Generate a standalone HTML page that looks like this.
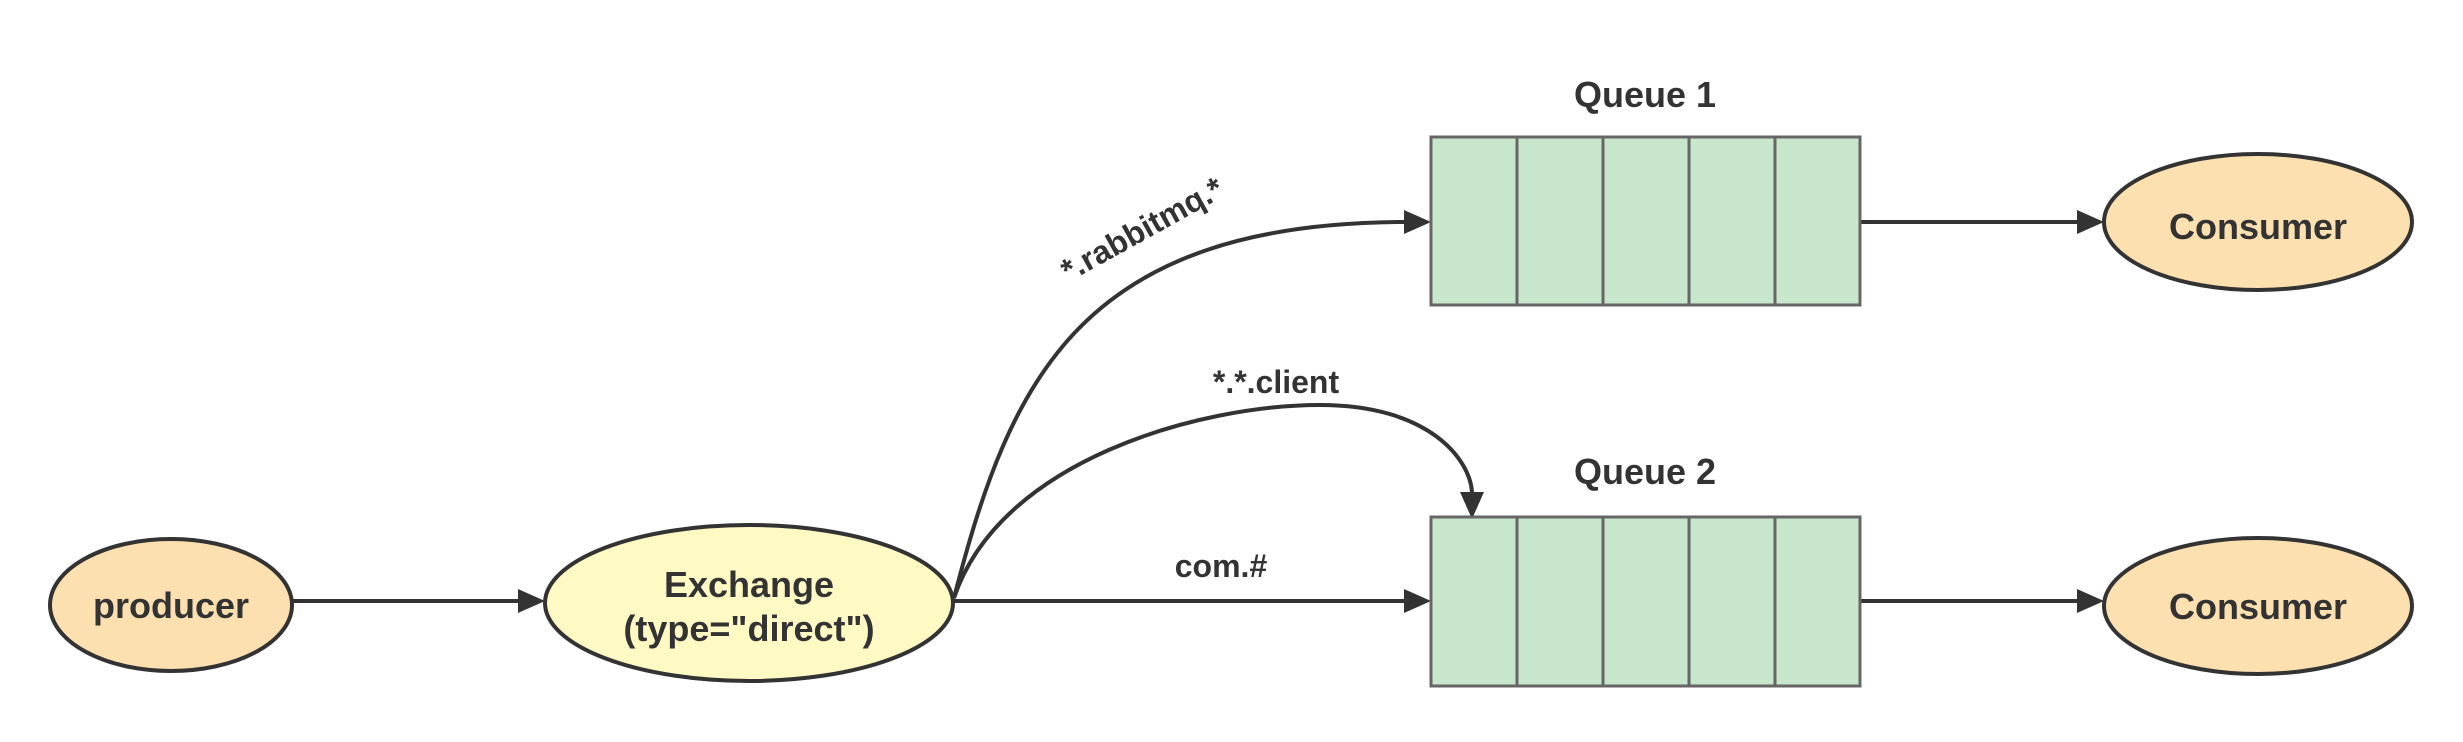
<!DOCTYPE html>
<html><head><meta charset="utf-8"><style>
html,body{margin:0;padding:0;background:#fff;}
svg text{font-family:"Liberation Sans","Noto Sans CJK SC",sans-serif;font-weight:bold;fill:#333;}
</style></head><body>
<svg width="2463" height="737" viewBox="0 0 2463 737" xmlns="http://www.w3.org/2000/svg">
<g stroke="#333" stroke-width="4" fill="none">
<line x1="292" y1="601" x2="522" y2="601"/>
<line x1="954" y1="601" x2="1408" y2="601"/>
<line x1="1860" y1="222" x2="2081" y2="222"/>
<line x1="1860" y1="601" x2="2081" y2="601"/>
<path d="M954 598 C1010 380, 1080 222, 1408 222"/>
<path d="M954 598 C1000 460, 1200 405, 1320 405 C1430 405, 1470 460, 1472 492"/>
</g>
<g fill="#333">
<polygon points="545,601 518,589 518,613"/>
<polygon points="1431,601 1404,589 1404,613"/>
<polygon points="1431,222 1404,210 1404,234"/>
<polygon points="2104,222 2077,210 2077,234"/>
<polygon points="2104,601 2077,589 2077,613"/>
<polygon points="1472,519 1460,492 1484,492"/>
</g>
<ellipse cx="171" cy="605" rx="121" ry="66" fill="#fde0b0" stroke="#333" stroke-width="4"/>
<ellipse cx="749" cy="603" rx="204" ry="78" fill="#fff9c4" stroke="#333" stroke-width="4"/>
<ellipse cx="2258" cy="222" rx="154" ry="68" fill="#fde0b0" stroke="#333" stroke-width="4"/>
<ellipse cx="2258" cy="606" rx="154" ry="68" fill="#fde0b0" stroke="#333" stroke-width="4"/>
<g fill="#c8e6cb" stroke="#666" stroke-width="3">
<rect x="1431" y="137" width="86" height="168"/><rect x="1517" y="137" width="86" height="168"/><rect x="1603" y="137" width="86" height="168"/><rect x="1689" y="137" width="86" height="168"/><rect x="1775" y="137" width="85" height="168"/>
<rect x="1431" y="517" width="86" height="169"/><rect x="1517" y="517" width="86" height="169"/><rect x="1603" y="517" width="86" height="169"/><rect x="1689" y="517" width="86" height="169"/><rect x="1775" y="517" width="85" height="169"/>
</g>
<g text-anchor="middle" font-size="36">
<text x="171" y="618">producer</text>
<text x="749" y="597">Exchange</text>
<text x="749" y="641">(type="direct")</text>
<text x="2258" y="239">Consumer</text>
<text x="2258" y="619">Consumer</text>
<text x="1645" y="107">Queue 1</text>
<text x="1645" y="484">Queue 2</text>
</g>
<g text-anchor="middle" font-size="32">
<text x="1142" y="240" transform="rotate(-29 1142 229)">*.rabbitmq.*</text>
<text x="1276" y="393">*.*.client</text>
<text x="1221" y="577">com.#</text>
</g>
</svg>
</body></html>
